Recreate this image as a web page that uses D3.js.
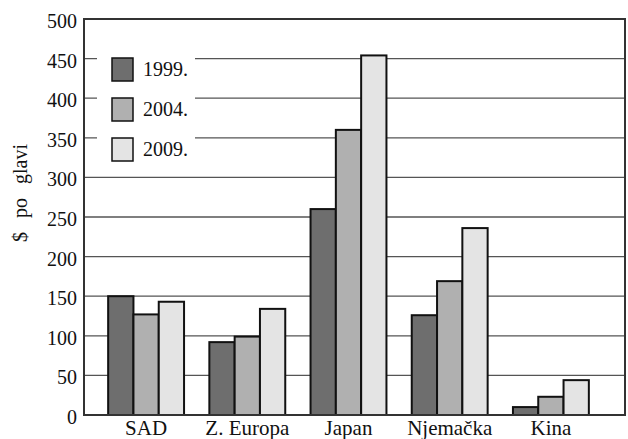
<!DOCTYPE html>
<html>
<head>
<meta charset="utf-8">
<script src="https://cdn.jsdelivr.net/npm/d3@7"></script>
<style>
  html, body { margin: 0; padding: 0; background: #fff; }
  svg { display: block; }
  svg text { font-family: "Liberation Serif", "Tinos", "Times New Roman", "DejaVu Serif", serif !important; fill: #111; }
</style>
</head>
<body>
<svg id="chart" width="628" height="439"></svg>
<script>
const categories = ["SAD", "Z. Europa", "Japan", "Njemačka", "Kina"];
const seriesNames = ["1999.", "2004.", "2009."];
const values1999 = [150, 92, 260, 126, 10];
const values2004 = [127, 99, 360, 169, 23];
const values2009 = [143, 134, 454, 236, 44];
const yTicks = [0, 50, 100, 150, 200, 250, 300, 350, 400, 450, 500];
const yLabel = "$ po glavi";

const colors = ["#6e6e6e", "#b0b0b0", "#e4e4e4"];
const series = [values1999, values2004, values2009];

const svg = d3.select("#chart");
const frame = { left: 84, right: 625, top: 19, bottom: 415 };

const y = d3.scaleLinear().domain([0, 500]).range([frame.bottom, frame.top]);
const x0 = d3.scaleBand().domain(categories).range([95.5, 601.5]).paddingInner(0.25).paddingOuter(0.125);
const x1 = d3.scaleBand().domain(seriesNames).range([0, x0.bandwidth()]).padding(0);

// gridlines
const grid = svg.append("g").attr("class", "grid");
grid.selectAll("line").data(yTicks.filter(t => t > 0 && t < 500)).join("line")
  .attr("x1", frame.left).attr("x2", frame.right)
  .attr("y1", d => y(d)).attr("y2", d => y(d))
  .attr("stroke", "#555").attr("stroke-width", 1.3);

// legend background (interrupts gridlines)
svg.append("rect").attr("x", 97).attr("y", 45).attr("width", 98).attr("height", 125).attr("fill", "#fff");

// bars
const groups = svg.append("g").selectAll("g").data(categories).join("g")
  .attr("transform", d => `translate(${x0(d)},0)`);
groups.selectAll("rect").data((d, i) => series.map((s, j) => ({ key: seriesNames[j], value: s[i], c: colors[j] })))
  .join("rect")
  .attr("x", d => x1(d.key))
  .attr("y", d => y(d.value))
  .attr("width", x1.bandwidth())
  .attr("height", d => y(0) - y(d.value))
  .attr("fill", d => d.c)
  .attr("stroke", "#111").attr("stroke-width", 2);

// frame
svg.append("rect").attr("x", frame.left).attr("y", frame.top)
  .attr("width", frame.right - frame.left).attr("height", frame.bottom - frame.top)
  .attr("fill", "none").attr("stroke", "#333").attr("stroke-width", 2);

// y axis
const yAxis = d3.axisLeft(y).tickValues(yTicks).tickSize(0).tickPadding(7);
const ya = svg.append("g").attr("transform", `translate(${frame.left},0)`).call(yAxis);
ya.select(".domain").remove();
ya.attr("font-family", null);
ya.selectAll("text").attr("font-size", 20).attr("fill", "#111").attr("dy", "0.42em");

// x axis
const xAxis = d3.axisBottom(x0).tickSize(0).tickPadding(5);
const xa = svg.append("g").attr("transform", `translate(0,${frame.bottom})`).call(xAxis);
xa.select(".domain").remove();
xa.attr("font-family", null);
xa.selectAll("text").attr("font-size", 21).attr("fill", "#111");

// y label
svg.append("text")
  .attr("transform", "translate(27,193) rotate(-90)")
  .attr("text-anchor", "middle")
  .attr("font-size", 20)
  .attr("word-spacing", 9)
  .text(yLabel);

// legend
const leg = svg.append("g").selectAll("g").data(seriesNames).join("g")
  .attr("transform", (d, i) => `translate(112,${58 + i * 40})`);
leg.append("rect").attr("width", 21).attr("height", 23)
  .attr("fill", (d, i) => colors[i]).attr("stroke", "#111").attr("stroke-width", 1.5);
leg.append("text").attr("x", 31).attr("y", 18).attr("font-size", 20).text(d => d);
</script>
</body>
</html>
